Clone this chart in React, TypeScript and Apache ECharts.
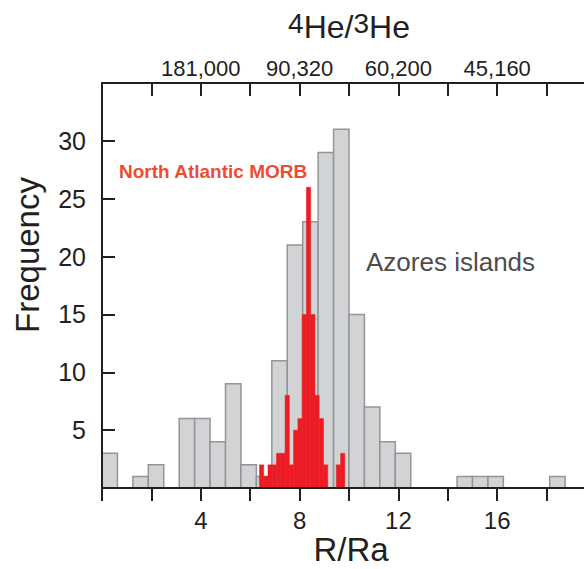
import React, { useEffect, useRef } from 'react';
import * as echarts from 'echarts';

// Azores islands helium isotope histogram (R/Ra), bins of 0.625
const grayBinStart = 0;
const grayBinWidth = 0.625;
const grayCounts = [3, 0, 1, 2, 0, 6, 6, 4, 9, 2, 1, 11, 21, 23, 29, 31, 15, 7, 4, 3, 0, 0, 0, 1, 1, 1, 0, 0, 0, 1];

// North Atlantic MORB histogram, narrower bins
const redBinStart = 6.375;
const redBinWidth = 0.1728;
const redCounts = [2, 1, 2, 2, 3, 3, 8, 2, 5, 6, 15, 26, 15, 8, 6, 2, 0, 0, 2, 3];

// Axis labelling
const bottomTickLabels = [4, 8, 12, 16];
const topTickValues = [4, 8, 12, 16];
const topTickLabels = ['181,000', '90,320', '60,200', '45,160'];
const yTickLabels = [5, 10, 15, 20, 25, 30];

const FONT = '"Liberation Sans", Arial, Helvetica, sans-serif';
const INK = '#231f20';

function toBins(start: number, width: number, counts: number[]) {
  return counts
    .map((c, i) => [start + i * width, start + (i + 1) * width, c])
    .filter((d) => d[2] > 0);
}

function histRenderer(fill: string, stroke: string, lineWidth: number) {
  return (params: any, api: any) => {
    const x0 = api.value(0);
    const x1 = api.value(1);
    const y = api.value(2);
    const p0 = api.coord([x0, y]);
    const p1 = api.coord([x1, 0]);
    return {
      type: 'rect',
      shape: { x: p0[0], y: p0[1], width: p1[0] - p0[0], height: p1[1] - p0[1] },
      style: { fill, stroke, lineWidth },
    };
  };
}

export default function App() {
  const ref = useRef<HTMLDivElement>(null);

  useEffect(() => {
    if (!ref.current) return;
    const chart = echarts.init(ref.current, undefined, { renderer: 'svg' });

    const axisLine = { show: true, lineStyle: { color: INK, width: 2 } };
    const tickStyle = { color: INK, width: 2 };

    chart.setOption({
      animation: false,
      textStyle: { fontFamily: FONT },
      grid: {
        left: 102,
        right: -12,
        top: 83,
        bottom: 81,
        containLabel: false,
        outerBoundsMode: 'none',
      },
      xAxis: [
        {
          type: 'value',
          position: 'bottom',
          min: 0,
          max: 20,
          interval: 2,
          z: 10,
          axisLine,
          axisTick: { show: true, inside: false, length: 13, lineStyle: tickStyle },
          axisLabel: {
            color: INK,
            fontSize: 24,
            fontFamily: FONT,
            margin: 20,
            formatter: (v: number) => (bottomTickLabels.includes(v) ? String(v) : ''),
          },
          splitLine: { show: false },
        },
        {
          type: 'value',
          position: 'top',
          min: 0,
          max: 20,
          interval: 2,
          z: 10,
          axisLine,
          axisTick: { show: true, inside: true, length: 13, lineStyle: tickStyle },
          axisLabel: {
            color: INK,
            fontSize: 22,
            fontFamily: FONT,
            margin: 4,
            formatter: (v: number) => {
              const i = topTickValues.indexOf(v);
              return i >= 0 ? topTickLabels[i] : '';
            },
          },
          splitLine: { show: false },
          name: '{sup|4}He/{sup|3}He',
          nameLocation: 'middle',
          nameGap: 38,
          nameTextStyle: {
            color: INK,
            fontSize: 32,
            lineHeight: 36,
            fontFamily: FONT,
            rich: {
              sup: { color: INK, fontSize: 28, lineHeight: 28, verticalAlign: 'top', fontFamily: FONT },
            },
          },
        },
      ],
      yAxis: {
        type: 'value',
        min: 0,
        max: 35,
        interval: 5,
        z: 10,
        axisLine,
        axisTick: { show: true, inside: true, length: 13, lineStyle: tickStyle },
        axisLabel: {
          color: INK,
          fontSize: 25,
          fontFamily: FONT,
          margin: 16,
          formatter: (v: number) => (yTickLabels.includes(v) ? String(v) : ''),
        },
        splitLine: { show: false },
      },
      graphic: [
        {
          type: 'text',
          x: 27,
          y: 255,
          rotation: Math.PI / 2,
          style: {
            text: 'Frequency',
            fill: INK,
            font: `33px ${FONT}`,
            textAlign: 'center',
            textVerticalAlign: 'middle',
          },
        },
        {
          type: 'text',
          x: 351,
          y: 549,
          style: {
            text: 'R/Ra',
            fill: INK,
            font: `33px ${FONT}`,
            textAlign: 'center',
            textVerticalAlign: 'middle',
          },
        },
        {
          type: 'text',
          x: 119,
          y: 171,
          style: {
            text: 'North Atlantic MORB',
            fill: '#f04b32',
            font: `bold 19px ${FONT}`,
            textAlign: 'left',
            textVerticalAlign: 'middle',
          },
        },
        {
          type: 'text',
          x: 366,
          y: 262,
          style: {
            text: 'Azores islands',
            fill: '#4d4d4d',
            font: `26px ${FONT}`,
            textAlign: 'left',
            textVerticalAlign: 'middle',
          },
        },
      ],
      series: [
        {
          name: 'Azores islands',
          type: 'custom',
          xAxisIndex: 0,
          yAxisIndex: 0,
          z: 2,
          renderItem: histRenderer('#d1d3d4', '#939598', 1.5),
          encode: { x: [0, 1], y: 2 },
          data: toBins(grayBinStart, grayBinWidth, grayCounts),
        },
        {
          name: 'North Atlantic MORB',
          type: 'custom',
          xAxisIndex: 0,
          yAxisIndex: 0,
          z: 3,
          renderItem: histRenderer('#ed1c24', '#ed1c24', 0.5),
          encode: { x: [0, 1], y: 2 },
          data: toBins(redBinStart, redBinWidth, redCounts),
        },
      ],
    });

    return () => chart.dispose();
  }, []);

  return (
    <div
      ref={ref}
      style={{ position: 'absolute', left: 0, top: 0, width: 584, height: 569, background: '#ffffff' }}
    />
  );
}
